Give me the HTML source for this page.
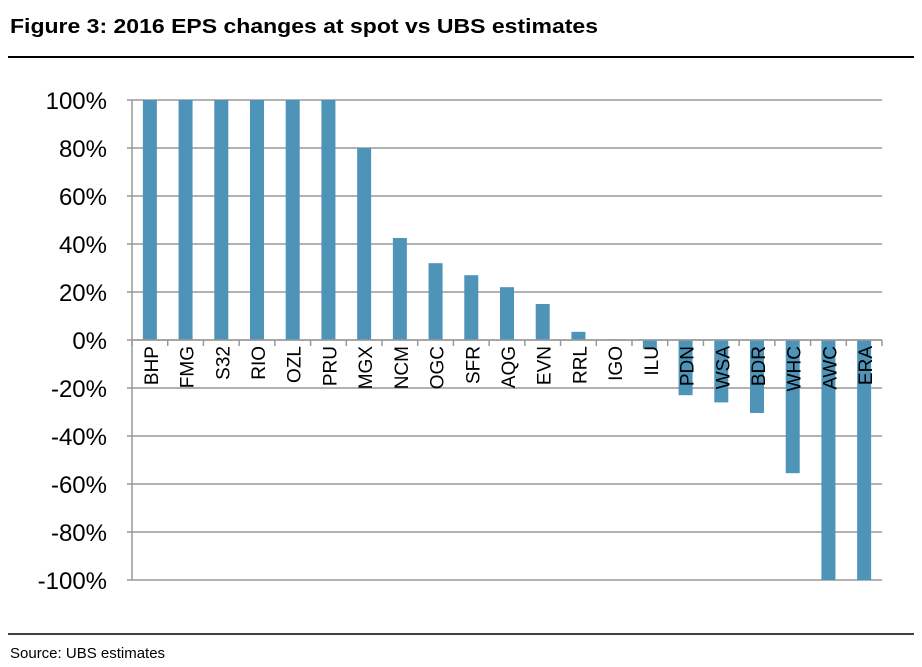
<!DOCTYPE html>
<html><head><style>
body{margin:0;background:#fff;width:922px;height:667px;overflow:hidden;font-family:"Liberation Sans",sans-serif}
</style></head><body>
<svg width="922" height="667" style="position:absolute;left:0;top:0">
<text x="10" y="33" font-size="20" font-weight="bold" fill="#000" textLength="588" lengthAdjust="spacingAndGlyphs">Figure 3: 2016 EPS changes at spot vs UBS estimates</text>
<line x1="8" y1="57" x2="914" y2="57" stroke="#000" stroke-width="2"/>
<g id="grid"></g><g id="bars"></g><g id="axis"></g>
<line x1="8" y1="634" x2="914" y2="634" stroke="#000" stroke-width="1.5"/>
<text x="10" y="658" font-size="15" fill="#000">Source: UBS estimates</text>
</svg>
<script>
const categories=["BHP","FMG","S32","RIO","OZL","PRU","MGX","NCM","OGC","SFR","AQG","EVN","RRL","IGO","ILU","PDN","WSA","BDR","WHC","AWC","ERA"];
const values=[100,100,100,100,100,100,80,42.5,32,27,22,15,3.4,0.3,-3.7,-23,-26,-30.4,-55.5,-100,-100];
const yTicks=[100,80,60,40,20,0,-20,-40,-60,-80,-100];
const ns="http://www.w3.org/2000/svg";
const x0=132,x1=882,yTop=100,yBot=580;
const y=v=>yTop+(100-v)*(yBot-yTop)/200;
const bw=(x1-x0)/categories.length;
const xc=i=>x0+bw*(i+0.5);
function mk(t,a,p){const e=document.createElementNS(ns,t);for(const k in a)e.setAttribute(k,a[k]);document.getElementById(p).appendChild(e);return e;}
yTicks.forEach(t=>{
 const l=mk("line",{x1:127,x2:x1,y1:y(t),y2:y(t),stroke:"#999","stroke-width":1.5},"grid");
 
 
 const tx=mk("text",{x:107,y:y(t)+9,"font-size":24,"text-anchor":"end",fill:"#000"},"grid");
 tx.textContent=t+"%";
 
 
});
values.forEach((v,i)=>{
 const r=mk("rect",{x:xc(i)-7,width:14,y:Math.min(y(v),y(0)),height:Math.abs(y(v)-y(0)),fill:"#4e93b8"},"bars");
 
 
});
const ax=mk("line",{x1:x0,x2:x1,y1:y(0),y2:y(0),stroke:"#999","stroke-width":1.5},"axis");


const yax=mk("line",{x1:x0,x2:x0,y1:yTop,y2:yBot,stroke:"#999","stroke-width":1.5},"axis");


for(let i=0;i<=categories.length;i++){
 const tk=mk("line",{x1:x0+bw*i,x2:x0+bw*i,y1:y(0),y2:y(0)+6,stroke:"#999","stroke-width":1.5},"axis");
 
 
}
categories.forEach((c,i)=>{
 const X=xc(i)+8,Y=y(0)+6;
 const t=mk("text",{x:X,y:Y,"font-size":19,"text-anchor":"end",fill:"#000",transform:`rotate(-90 ${X} ${Y})`},"axis");
 t.textContent=c;
 
 
});
</script>
</body></html>
